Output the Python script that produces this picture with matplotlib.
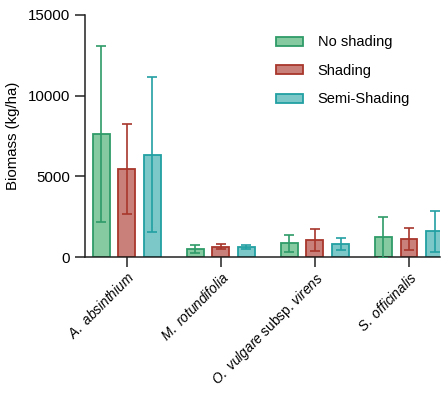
import numpy as np
import matplotlib.pyplot as plt

plt.rcParams['font.family'] = ['Liberation Sans', 'DejaVu Sans']
plt.rcParams['mathtext.fontset'] = 'custom'
plt.rcParams['mathtext.rm'] = 'Liberation Sans'
plt.rcParams['mathtext.it'] = 'Liberation Sans:italic'

# Data (biomass kg/ha, mean and SD)
species = ['A. absinthium', 'M. rotundifolia', 'O. vulgare subsp. virens', 'S. officinalis']
tick_labels = [r'$\mathit{A.\ absinthium}$', r'$\mathit{M.\ rotundifolia}$',
               r'$\mathit{O.\ vulgare}$ subsp. $\mathit{virens}$', r'$\mathit{S.\ officinalis}$']
treatments = ['No shading', 'Shading', 'Semi-Shading']
no_shading = [7620, 510, 850, 1220]
no_shading_sd = [5480, 240, 520, 1280]
shading = [5460, 640, 1050, 1110]
shading_sd = [2790, 140, 700, 680]
semi_shading = [6350, 600, 810, 1600]
semi_shading_sd = [4820, 120, 360, 1260]

fills = ['#86caa2', '#c9807a', '#7cc7c8']
edges = ['#2f9b68', '#a8362c', '#22a0a3']

fig = plt.figure(figsize=(4.44, 3.93), dpi=100)
ax = fig.add_axes([0.191, 0.346, 0.80, 0.616])

x = np.arange(len(species))
w = 0.18
off = 0.272
series = [(no_shading, no_shading_sd), (shading, shading_sd), (semi_shading, semi_shading_sd)]
for i, (vals, sd) in enumerate(series):
    pos = x + (i - 1) * off
    ax.bar(pos, vals, w, color=fills[i], edgecolor=edges[i], linewidth=1.3, label=treatments[i], zorder=2)
    ax.errorbar(pos, vals, yerr=sd, fmt='none', ecolor=edges[i], elinewidth=1.2,
                capsize=3.3, capthick=1.2, zorder=3)

ax.set_xlim(-0.447, 3.33)
ax.set_ylim(0, 15000)
ax.set_yticks([0, 5000, 10000, 15000])
ax.set_xticks(x)
ax.set_xticklabels(tick_labels, rotation=45, ha='right', rotation_mode='anchor', fontsize=9.8)
ax.tick_params(axis='y', labelsize=10.8, length=7, width=1.1, color='#222222')
ax.tick_params(axis='x', length=7, width=1.1, color='#222222', pad=2)
for s in ['top', 'right']:
    ax.spines[s].set_visible(False)
for s in ['left', 'bottom']:
    ax.spines[s].set_linewidth(1.1)
    ax.spines[s].set_color('#222222')
ax.set_ylabel('Biomass (kg/ha)', fontsize=10.8, labelpad=6)

ax.legend(frameon=False, loc='upper left', bbox_to_anchor=(0.5, 0.97), fontsize=10.5,
          handlelength=1.9, handleheight=0.6, labelspacing=1.0, handletextpad=1.0)

fig.savefig('out.png', dpi=100)
